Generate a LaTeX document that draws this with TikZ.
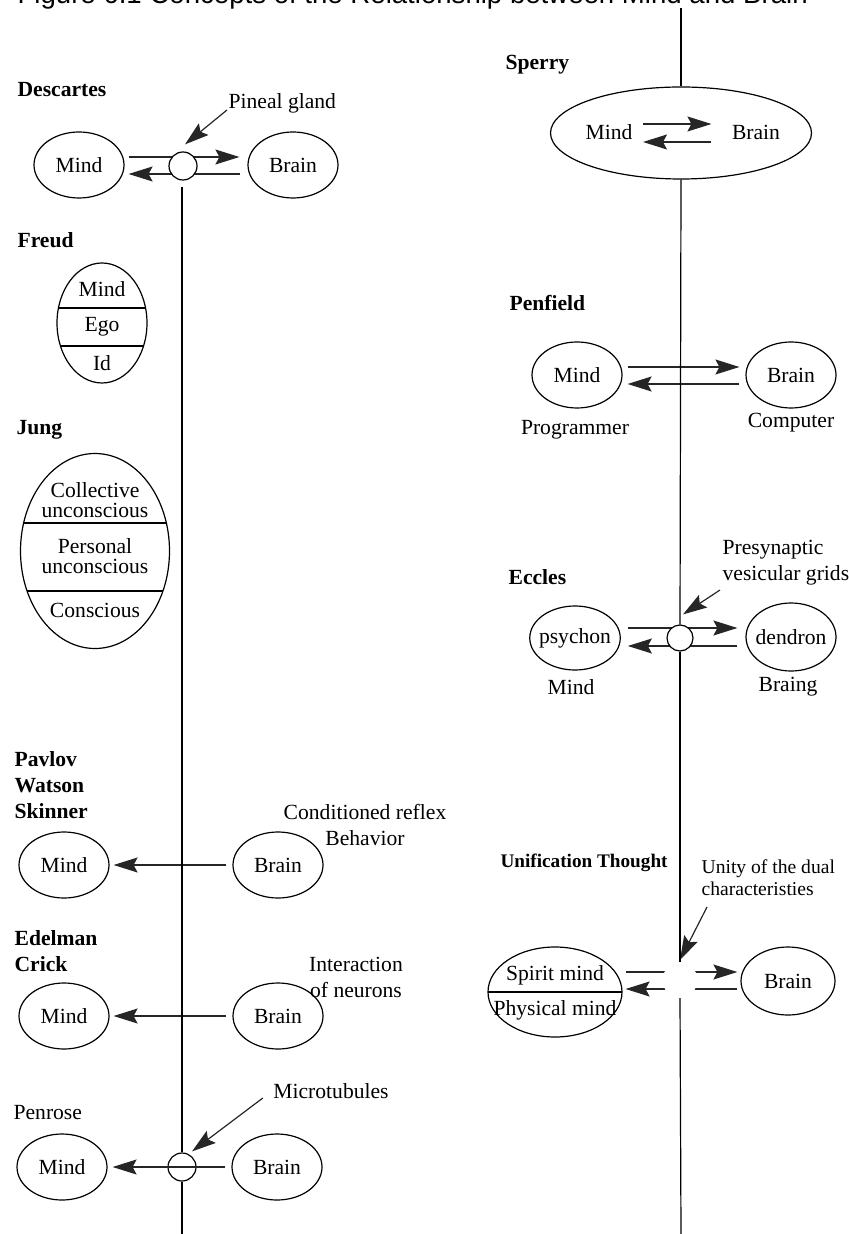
\documentclass[tikz,border=0pt]{standalone}
\usepackage{fontspec}
\setmainfont{Liberation Serif}
\newfontfamily\capfont{Liberation Sans}
\usetikzlibrary{shapes.geometric,arrows.meta,calc}
\newcommand\figsz{\fontsize{10.8}{13}\selectfont}
\newcommand\figtight{\fontsize{10.8}{10}\selectfont}
\tikzset{
  every node/.style={font=\figsz},
  oval/.style={draw, ellipse, inner sep=0pt, minimum width=45pt, minimum height=33pt},
  hub/.style={draw, circle, fill=white, inner sep=0pt, minimum size=14pt},
  person/.style={anchor=west, inner sep=0pt, align=left, font=\figsz\bfseries},
  txt/.style={inner sep=2pt, align=center},
  arr/.style={draw=black!85, -{Stealth[length=12pt,width=7.5pt,inset=2pt]}}
}
\begin{document}
\begin{tikzpicture}[x=0.5pt,y=-0.5pt,line width=0.6pt]
\useasboundingbox (0,0) rectangle (848,1234);
\draw (17,4) node[anchor=base west, inner sep=0pt, font=\capfont\fontsize{13.8}{15}\selectfont] (cap) {Figure 6.1 Concepts of the Relationship between Mind and Brain};

\draw (17,90) node[person] (desc) {Descartes};
\draw (79,165) node[oval] (dm) {Mind};
\draw (293,165) node[oval] (db) {Brain};
\draw[arr] ($(dm.east)+(4,-8)$) -- ($(db.west)+(-8,-8)$);
\draw[arr] ($(db.west)+(-7,9)$) -- ($(dm.east)+(4,9)$);
\draw (183,166) node[hub] (dp) {};
\draw (224,103) node[txt,anchor=west] (pg) {Pineal gland};
\draw[arr] ($(pg.west)+(3,7)$) -- ($(dp.north)+(2,-7)$);

\draw (17,240) node[person] (freud) {Freud};
\draw (102,323) node[oval, minimum width=45pt, minimum height=60pt] (fr) {};
\begin{scope}
  \clip (fr.center) ellipse (22.5pt and 30pt);
  \draw ($(fr.west)+(0,-15)$) -- ($(fr.east)+(0,-15)$);
  \draw ($(fr.west)+(0,23)$) -- ($(fr.east)+(0,23)$);
\end{scope}
\draw (102,289) node[txt] (fr1) {Mind};
\draw (102,327) node[txt] (fr2) {Ego};
\draw (102,363) node[txt] (fr3) {Id};

\draw (16,430) node[person] (jung) {Jung};
\draw (95,551) node[oval, minimum width=74.5pt, minimum height=97.5pt] (jg) {};
\begin{scope}
  \clip (jg.center) ellipse (37.25pt and 48.75pt);
  \draw ($(jg.west)+(0,-28)$) -- ($(jg.east)+(0,-28)$);
  \draw ($(jg.west)+(0,40)$) -- ($(jg.east)+(0,40)$);
\end{scope}
\draw (95,500) node[txt, font=\figtight] (jg1) {Collective\\unconscious};
\draw (95,556) node[txt, font=\figtight] (jg2) {Personal\\unconscious};
\draw (95,610) node[txt] (jg3) {Conscious};

\draw (14,785) node[person] (pws) {Pavlov\\Watson\\Skinner};
\draw (64,865) node[oval] (pm) {Mind};
\draw (278,865) node[oval] (pb) {Brain};
\draw[arr] ($(pb.west)+(-6,0)$) -- ($(pm.east)+(4,0)$);
\draw (365,825) node[txt] (cr) {Conditioned reflex\\Behavior};

\draw (14,951) node[person] (edc) {Edelman\\Crick};
\draw (64,1016) node[oval] (em) {Mind};
\draw (278,1016) node[oval] (eb) {Brain};
\draw[arr] ($(eb.west)+(-6,0)$) -- ($(em.east)+(4,0)$);
\draw (356,977) node[txt] (ion) {Interaction\\of neurons};

\draw (13,1113) node[person, font=\figsz] (pen) {Penrose};
\draw (62,1167) node[oval] (nm) {Mind};
\draw (277,1167) node[oval] (nb) {Brain};
\draw (182,1167) node[hub, fill=none] (np) {};
\draw[arr] ($(nb.west)+(-6,0)$) -- ($(nm.east)+(5,0)$);
\draw (331,1091) node[txt] (mt) {Microtubules};
\draw[arr] ($(mt.west)+(-6,7)$) -- ($(np.north)+(10,-1)$);

\coordinate (ltop) at (182,187);
\coordinate (lbot) at (182,1234);
\draw (ltop) -- (np.north);
\draw (np.south) -- (lbot);

\draw (505,65) node[person] (sperry) {Sperry};
\draw (681,133) node[oval, minimum width=130.5pt, minimum height=46pt] (sp) {};
\draw (609,132) node[txt] (sm) {Mind};
\draw (756,132) node[txt] (sb) {Brain};
\draw[arr] ($(sm.east)+(6,-8)$) -- ($(sb.west)+(-16,-8)$);
\draw[arr] ($(sb.west)+(-16,10)$) -- ($(sm.east)+(6,10)$);

\draw (509,303) node[person] (penf) {Penfield};
\draw (577,375) node[oval] (fm) {Mind};
\draw (791,375) node[oval] (fb) {Brain};
\draw[arr] ($(fm.east)+(5,-8)$) -- ($(fb.west)+(-6,-8)$);
\draw[arr] ($(fb.west)+(-6,9)$) -- ($(fm.east)+(5,9)$);
\draw (575,430) node[txt] (prog) {Programmer};
\draw (791,423) node[txt] (comp) {Computer};

\draw (508,577) node[person] (eccles) {Eccles};
\draw (575,638) node[oval, inner xsep=-2pt, minimum height=32pt] (cm) {psychon};
\draw (791,637) node[oval, inner xsep=-2pt, minimum height=34pt] (cb) {dendron};
\draw[arr] ($(cm.east)+(7,-10)$) -- ($(cb.west)+(-8,-9)$);
\draw[arr] ($(cb.west)+(-8,9)$) -- ($(cm.east)+(7,8)$);
\draw (680,638) node[hub, minimum size=13pt] (ec) {};
\draw (571,687) node[txt] (cmind) {Mind};
\draw (788,687) node[txt] (cbrain) {Braing};
\draw (718,563) node[txt, anchor=west, align=left] (pv) {Presynaptic\\vesicular grids};
\draw[arr] ($(pv.west)+(2,27)$) -- ($(ec.north)+(3,-10)$);

\draw (500,863) node[person, font=\fontsize{9.6}{11}\bfseries] (uth) {Unification Thought};
\draw (697,878) node[txt, anchor=west, align=left, font=\fontsize{9.8}{11}\selectfont] (ud) {Unity of the dual\\characteristies};
\draw (555,992) node[oval, minimum width=67pt, minimum height=45pt] (us) {};
\begin{scope}
  \clip (us.center) ellipse (33.5pt and 22.5pt);
  \draw (us.west) -- (us.east);
\end{scope}
\draw (555,975) node[txt] (us1) {Spirit mind};
\draw (555,1010) node[txt] (us2) {Physical mind};
\draw (788,981) node[oval, minimum width=47pt, minimum height=34pt] (ub) {Brain};
\draw[arr] ($(us.east)+(3,-20)$) -- ($(ub.west)+(-3,-9)$);
\draw[arr] ($(ub.west)+(-3,8)$) -- ($(us.east)+(3,-3)$);
\draw (680,980) node[circle, fill=white, inner sep=0pt, minimum size=17.5pt] (uc) {};
\draw[arr] ($(ud.west)+(10,29)$) -- ($(uc.north)+(0,-2)$);

\coordinate (rtop) at (681,8);
\coordinate (rbot) at (681,1234);
\draw (rtop) -- (sp.north);
\draw (sp.south) -- (ec.north);
\draw (ec.south) -- (uc.north);
\draw (uc.south) -- (rbot);
\end{tikzpicture}
\end{document}
